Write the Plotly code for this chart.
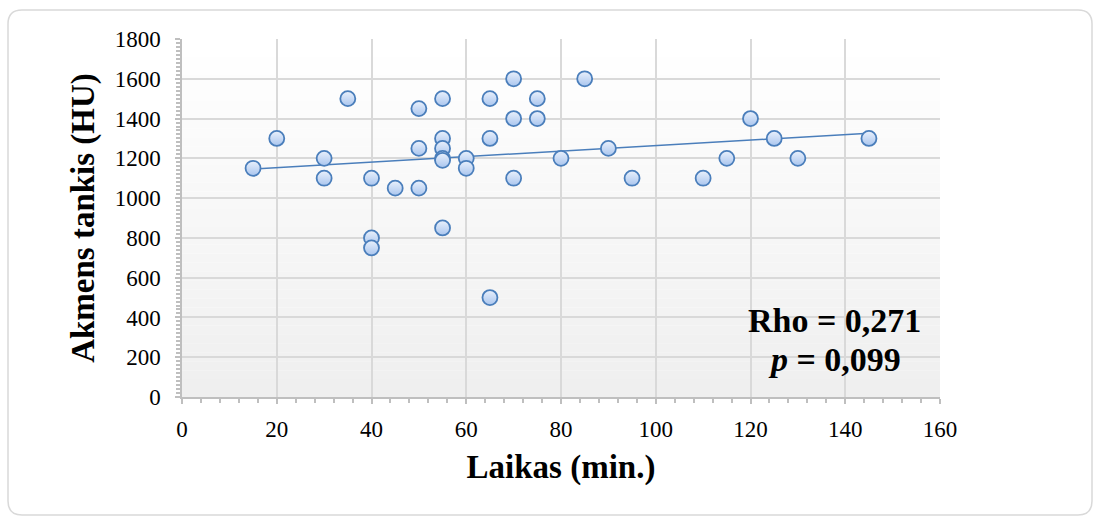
import numpy as np
import plotly.graph_objects as go

# Data
laikas = [15, 20, 30, 30, 35, 40, 40, 40, 45, 50, 50, 50, 55, 55, 55, 55, 55, 55,
          60, 60, 65, 65, 65, 70, 70, 70, 75, 75, 80, 85, 90, 95, 110, 115, 120,
          125, 130, 145]
tankis = [1150, 1300, 1200, 1100, 1500, 1100, 800, 750, 1050, 1450, 1250, 1050,
          1500, 1300, 1250, 1200, 1190, 850, 1200, 1150, 1500, 1300, 500, 1600,
          1400, 1100, 1500, 1400, 1200, 1600, 1250, 1100, 1100, 1200, 1400,
          1300, 1200, 1300]
x_ticks = [0, 20, 40, 60, 80, 100, 120, 140, 160]
y_ticks = [0, 200, 400, 600, 800, 1000, 1200, 1400, 1600, 1800]

FONT = "Liberation Serif, Times New Roman, DejaVu Serif, serif"
L, R, T, B = 182, 159, 39, 125
W, H = 1099, 522
pw, ph = W - L - R, H - T - B

# linear trend
slope, icpt = np.polyfit(laikas, tankis, 1)
tx = [min(laikas), max(laikas)]
ty = [slope * v + icpt for v in tx]

fig = go.Figure()

# background gradient bands in the plot area
shapes = []
n = 40
for i in range(n):
    f = i / (n - 1)
    c = int(round(255 - f * 16))
    shapes.append(dict(type="rect", xref="x domain", yref="y domain",
                       x0=0, x1=1, y0=1 - (i + 1) / n, y1=1 - i / n,
                       fillcolor=f"rgb({c},{c},{c})", line=dict(width=0),
                       layer="below"))

# chart border (rounded)
x0p = (8 - L) / pw
x1p = (1092 - L) / pw
y1p = (H - B - 10) / ph
y0p = (H - B - 515) / ph
rx = 14 / pw
ry = 14 / ph
path = (f"M {x0p+rx},{y1p} L {x1p-rx},{y1p} Q {x1p},{y1p} {x1p},{y1p-ry} "
        f"L {x1p},{y0p+ry} Q {x1p},{y0p} {x1p-rx},{y0p} "
        f"L {x0p+rx},{y0p} Q {x0p},{y0p} {x0p},{y0p+ry} "
        f"L {x0p},{y1p-ry} Q {x0p},{y1p} {x0p+rx},{y1p} Z")
shapes.append(dict(type="path", xref="paper", yref="paper", path=path,
                   line=dict(color="#d9d9d9", width=1.5), layer="below"))

fig.add_trace(go.Scatter(x=tx, y=ty, mode="lines",
                         line=dict(color="#4a7ebb", width=1.5),
                         hoverinfo="skip", showlegend=False))
fig.add_trace(go.Scatter(
    x=laikas, y=tankis, mode="markers", showlegend=False,
    marker=dict(size=15, color="#eaf1fc",
                gradient=dict(type="vertical", color="#a9c5ee"),
                line=dict(color="#4a7ebb", width=1.8))))

fig.add_annotation(xref="paper", yref="paper", x=(834 - L) / pw,
                   y=(H - B - 320) / ph, text="<b>Rho = 0,271</b>",
                   xanchor="center", yanchor="middle",
                   showarrow=False, font=dict(family=FONT, size=34, color="black"))
fig.add_annotation(xref="paper", yref="paper", x=(834 - L) / pw,
                   y=(H - B - 359) / ph, text="<b><i>p</i> = 0,099</b>",
                   xanchor="center", yanchor="middle",
                   showarrow=False, font=dict(family=FONT, size=34, color="black"))

axis_common = dict(showline=True, linecolor="#bfbfbf", linewidth=1.5,
                   gridcolor="#d9d9d9", gridwidth=1.5, zeroline=False,
                   ticks="outside", ticklen=5, tickcolor="#bfbfbf", tickwidth=1.5,
                   tickfont=dict(family=FONT, size=23, color="black"))

fig.update_layout(
    width=W, height=H, margin=dict(l=L, r=R, t=T, b=B),
    paper_bgcolor="white", plot_bgcolor="white",
    shapes=shapes,
    xaxis=dict(range=[0, 160], tickvals=x_ticks, ticktext=[str(v) for v in x_ticks],
               minor=dict(dtick=4, ticks="outside", ticklen=4, tickcolor="#bfbfbf",
                          showgrid=False),
               ticklabelstandoff=6,
               title=dict(text="<b>Laikas (min.)</b>", standoff=14,
                          font=dict(family=FONT, size=33, color="black")),
               **axis_common),
    yaxis=dict(range=[0, 1800], tickvals=y_ticks, ticktext=[str(v) for v in y_ticks],
               minor=dict(dtick=20, ticks="outside", ticklen=4, tickcolor="#bfbfbf",
                          showgrid=False),
               ticklabelstandoff=10,
               title=dict(text="<b>Akmens tankis (HU)</b>", standoff=10,
                          font=dict(family=FONT, size=33, color="black")),
               **axis_common),
)

fig.write_html("out.html")
